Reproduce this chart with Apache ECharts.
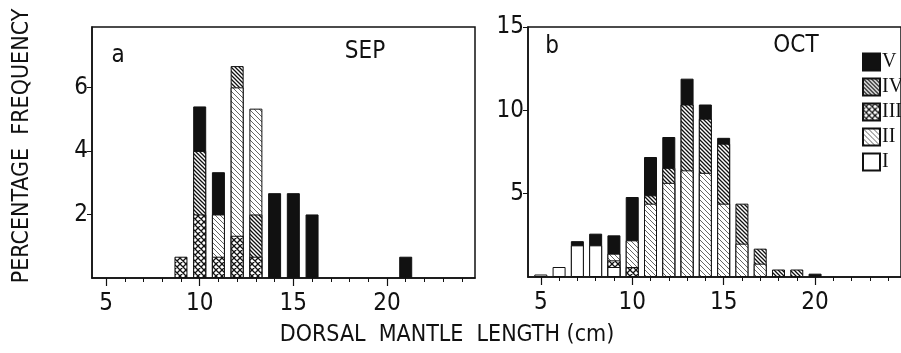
<!DOCTYPE html>
<html>
<head>
<meta charset="utf-8">
<script src="https://cdn.jsdelivr.net/npm/echarts@6/dist/echarts.min.js"></script>
<style>
  html, body { margin: 0; padding: 0; background: #fff; }
  #main { width: 901px; height: 353px; }
</style>
</head>
<body>
<div id="main"></div>
<script>
const chart = echarts.init(document.querySelector('#main'))

const FONT = '"DejaVu Sans Condensed", "DejaVu Sans", sans-serif'
const INK = '#111'

// size classes, legend order top -> bottom
const CLASSES = ['V', 'IV', 'III', 'II', 'I']

// panel a, SEP
const SEP_X = [9, 10, 11, 12, 13, 14, 15, 16, 21]
const SEP_III = [0.67, 2, 0.67, 1.33, 0.67, 0, 0, 0, 0]
const SEP_IV = [0, 2, 0, 0, 1.33, 0, 0, 0, 0]
const SEP_II = [0, 0, 1.33, 4.67, 3.33, 0, 0, 0, 0]
const SEP_IV_TOP = [0, 0, 0, 0.67, 0, 0, 0, 0, 0]
const SEP_V = [0, 1.4, 1.33, 0, 0, 2.67, 2.67, 2, 0.67]

// panel b, OCT
const OCT_X = [5, 6, 7, 8, 9, 10, 11, 12, 13, 14, 15, 16, 17, 18, 19, 20]
const OCT_I = [0.15, 0.6, 1.9, 1.9, 0.6, 0, 0, 0, 0, 0, 0, 0, 0, 0, 0, 0]
const OCT_III = [0, 0, 0, 0, 0.4, 0.6, 0, 0, 0, 0, 0, 0, 0, 0, 0, 0]
const OCT_II = [0, 0, 0, 0, 0.4, 1.6, 4.4, 5.65, 6.4, 6.25, 4.4, 2, 0.8, 0, 0, 0]
const OCT_IV = [0, 0, 0, 0, 0, 0, 0.5, 0.9, 3.95, 3.25, 3.6, 2.4, 0.9, 0.45, 0.45, 0]
const OCT_V = [0, 0, 0.25, 0.7, 1.1, 2.6, 2.3, 1.85, 1.55, 0.85, 0.35, 0, 0, 0, 0, 0.2]

const X_LABELS = [5, 10, 15, 20]
const X_MINOR = [5, 6, 7, 8, 9, 10, 11, 12, 13, 14, 15, 16, 17, 18, 19, 20, 21, 22, 23, 24]
const SEP_Y_LABELS = [2, 4, 6]
const OCT_Y_LABELS = [5, 10, 15]

function makePattern (kind) {
  const size = kind === 'III' ? 6 : kind === 'II' ? 5 : 4
  const c = document.createElement('canvas')
  c.width = size
  c.height = size
  const g = c.getContext('2d')
  g.fillStyle = '#fff'
  g.fillRect(0, 0, size, size)
  g.strokeStyle = kind === 'II' ? '#666' : '#111'
  g.lineWidth = kind === 'II' ? 1 : 1.3
  g.beginPath()
  g.moveTo(-1, -1); g.lineTo(size + 1, size + 1)
  g.moveTo(-1, size - 1); g.lineTo(1, size + 1)
  g.moveTo(size - 1, -1); g.lineTo(size + 1, 1)
  if (kind === 'III') {
    g.moveTo(-1, size + 1); g.lineTo(size + 1, -1)
    g.moveTo(-1, 1); g.lineTo(1, -1)
    g.moveTo(size - 1, size + 1); g.lineTo(size + 1, size - 1)
  }
  g.stroke()
  return { image: c, repeat: 'repeat' }
}

const FILLS = {
  V: INK,
  IV: makePattern('IV'),
  III: makePattern('III'),
  II: makePattern('II'),
  I: '#fff'
}

// layers are given bottom -> top; each bar is drawn from 0 up to the
// running total and lower layers are painted over the upper ones
function stackedBars (xs, layers, panel) {
  const tops = layers.map(() => [])
  xs.forEach((x, i) => {
    let sum = 0
    layers.forEach(([name, vals], k) => {
      sum += vals[i]
      tops[k].push(vals[i] > 0 ? [x, +sum.toFixed(3)] : [x, '-'])
    })
  })
  return layers.map(([name], k) => ({
    type: 'bar',
    name: name,
    xAxisIndex: panel * 2,
    yAxisIndex: panel,
    barWidth: 13,
    barGap: '-100%',
    itemStyle: { color: FILLS[name], borderColor: INK, borderWidth: 1 },
    emphasis: { disabled: true },
    data: tops[k]
  })).reverse()
}

function xAxes (grid, min, max) {
  return [
    {
      gridIndex: grid,
      type: 'value',
      position: 'bottom',
      min: min,
      max: max,
      splitLine: { show: false },
      axisLine: { show: true, lineStyle: { color: INK, width: 1.5 } },
      axisTick: { show: true, customValues: X_MINOR, length: 4, lineStyle: { color: INK } },
      axisLabel: { customValues: X_LABELS, fontFamily: FONT, fontSize: 24, color: INK, margin: 14 }
    },
    {
      gridIndex: grid,
      type: 'value',
      position: 'bottom',
      min: min,
      max: max,
      splitLine: { show: false },
      axisLine: { show: false },
      axisTick: { show: true, customValues: X_LABELS, length: 8, lineStyle: { color: INK, width: 1.2 } },
      axisLabel: { show: false }
    }
  ]
}

function yAxis (grid, max, labels) {
  return {
    gridIndex: grid,
    type: 'value',
    min: 0,
    max: max,
    splitLine: { show: false },
    axisLine: { show: true, lineStyle: { color: INK, width: 1.5 } },
    axisTick: { show: true, customValues: labels, length: 5, lineStyle: { color: INK } },
    axisLabel: { customValues: labels, fontFamily: FONT, fontSize: 24, color: INK, margin: 4 }
  }
}

const label = (x, y, text, size, extra) => Object.assign({
  type: 'text',
  x: x,
  y: y,
  style: {
    text: text,
    fontFamily: FONT,
    fontSize: size,
    fill: INK,
    align: 'center',
    verticalAlign: 'middle'
  }
}, extra || {})

chart.setOption({
  animation: false,
  backgroundColor: '#fff',
  grid: [
    { left: 92, top: 27, width: 383, height: 251, show: true, borderColor: INK, borderWidth: 1.5 },
    { left: 528, top: 27, width: 380, height: 250, show: true, borderColor: INK, borderWidth: 1.5 }
  ],
  xAxis: [].concat(xAxes(0, 4.25, 24.7), xAxes(1, 4.3, 24.7)),
  yAxis: [yAxis(0, 7.9, SEP_Y_LABELS), yAxis(1, 15, OCT_Y_LABELS)],
  legend: {
    orient: 'vertical',
    left: 857,
    top: 47,
    icon: 'rect',
    itemWidth: 17,
    itemHeight: 17,
    itemGap: 5,
    selectedMode: false,
    data: CLASSES,
    textStyle: { fontFamily: '"Liberation Serif", serif', fontSize: 20, lineHeight: 18, color: INK, padding: [0, 0, 0, -3] }
  },
  graphic: [
    label(118, 56, 'a', 24),
    label(365, 52, 'SEP', 24),
    label(552, 47, 'b', 24),
    label(796, 46, 'OCT', 24),
    label(22, 146, 'PERCENTAGE  FREQUENCY', 23, { rotation: Math.PI / 2 }),
    label(447, 335, 'DORSAL  MANTLE  LENGTH (cm)', 23)
  ],
  series: [].concat(
    stackedBars(SEP_X, [['III', SEP_III], ['IV', SEP_IV], ['II', SEP_II], ['IV', SEP_IV_TOP], ['V', SEP_V]], 0),
    stackedBars(OCT_X, [['I', OCT_I], ['III', OCT_III], ['II', OCT_II], ['IV', OCT_IV], ['V', OCT_V]], 1)
  )
})
</script>
</body>
</html>
